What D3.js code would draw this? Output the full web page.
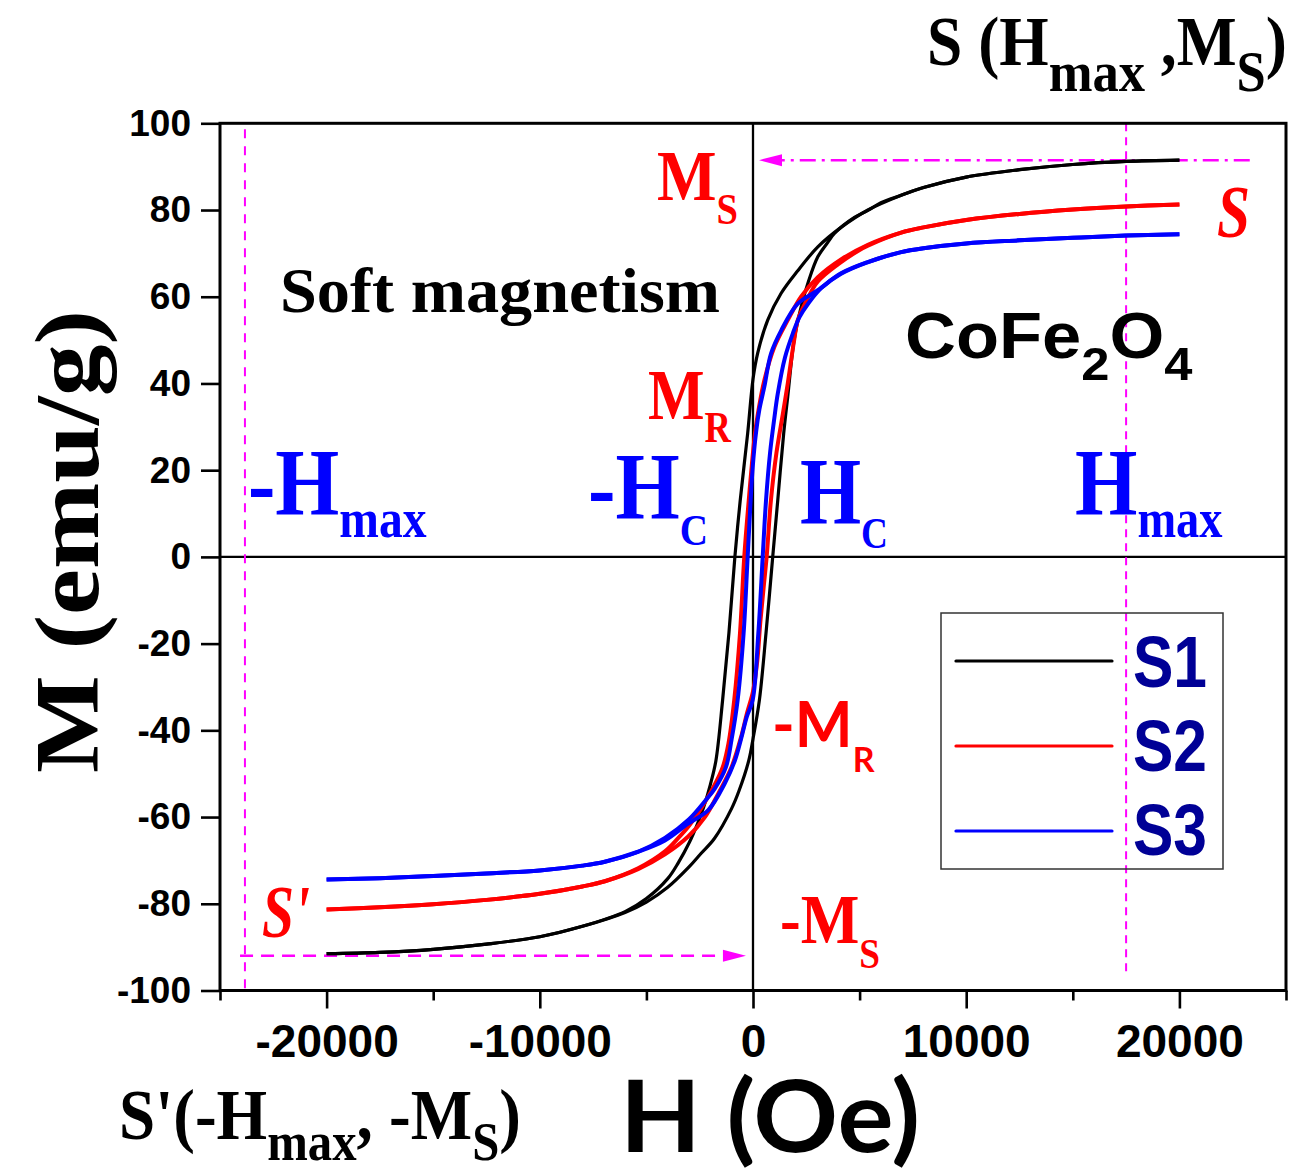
<!DOCTYPE html>
<html><head><meta charset="utf-8">
<script src="https://cdn.jsdelivr.net/npm/d3@7"></script>
<style>body{margin:0;background:#fff} text{white-space:pre}</style>
</head><body>
<svg id="chart" width="1303" height="1173"></svg>
<script>
// ---------- data ----------
const xTicksMajor = [-20000, -10000, 0, 10000, 20000];
const xTicksMinor = [-25000, -15000, -5000, 5000, 15000, 25000];
const yTicks = [-100, -80, -60, -40, -20, 0, 20, 40, 60, 80, 100];
const seriesNames = ["S1", "S2", "S3"];
const seriesColors = ["#000000", "#ff0000", "#0000ff"];

// S1: descending-field branch (H: +20000 -> -20000) and ascending-field branch
const s1Down = [[20000,91.5],[17500,91.2],[15000,90.5],[12500,89.3],[10000,87.6],[8000,85.2],[6950,83.4],[5390,80.0],[4130,76.0],[3040,71.5],[2100,66.0],[1320,60.8],[690,54.6],[220,47.0],[0,41.0],[-250,28.5],[-600,13.0],[-850,0],[-1130,-17.6],[-1425,-33.0],[-1740,-47.0],[-2000,-52.5],[-2300,-57.5],[-2600,-61.5],[-3000,-66.0],[-3500,-70.5],[-4000,-74.2],[-5000,-78.8],[-6000,-81.8],[-8000,-85.2],[-10000,-87.6],[-12500,-89.3],[-15000,-90.5],[-17500,-91.2],[-20000,-91.5]];
const s1Up = [[-20000,-91.5],[-17500,-91.2],[-15000,-90.5],[-12500,-89.3],[-10000,-87.6],[-8000,-85.2],[-6000,-82.0],[-5000,-79.6],[-4000,-76.2],[-3000,-71.5],[-2440,-68.4],[-1818,-65.0],[-1000,-58.0],[-660,-54.0],[-200,-47.0],[0,-42.0],[300,-33.0],[610,-17.6],[925,0],[1160,13.0],[1440,28.5],[1630,37.0],[1930,50.0],[2255,57.6],[2600,63.5],[3040,69.2],[3500,72.5],[3820,74.6],[4760,78.3],[5390,79.9],[6000,81.7],[6950,83.4],[8000,85.2],[10000,87.6],[12500,89.3],[15000,90.5],[17500,91.2],[20000,91.5]];

// S2
const s2Down = [[20000,81.3],[17500,80.8],[15000,80.1],[12500,79.1],[10000,77.7],[8000,76.0],[6950,74.8],[5390,72.0],[4130,68.6],[3040,64.5],[2255,60.0],[1630,54.6],[1000,48.4],[530,40.7],[280,34.5],[94,28.5],[-200,13.0],[-410,0],[-610,-17.6],[-880,-33.0],[-1150,-43.0],[-1420,-48.5],[-1900,-53.5],[-2500,-58.5],[-3000,-62.0],[-3500,-64.8],[-4130,-67.9],[-5390,-71.8],[-6950,-74.8],[-8000,-76.0],[-10000,-77.7],[-12500,-79.1],[-15000,-80.1],[-17500,-80.8],[-20000,-81.3]];
const s2Up = [[-20000,-81.3],[-17500,-80.8],[-15000,-80.1],[-12500,-79.1],[-10000,-77.7],[-8000,-76.0],[-6950,-74.8],[-5390,-72.0],[-4130,-68.6],[-3040,-64.5],[-2255,-60.0],[-1630,-54.6],[-1000,-48.4],[-530,-41.0],[-280,-36.0],[0,-31.0],[200,-24.0],[345,-15.0],[500,-7.0],[640,0],[840,13.0],[1100,24.0],[1400,33.0],[1630,40.0],[1930,50.0],[2100,54.6],[2500,59.0],[3040,63.5],[4000,67.5],[5000,70.8],[5390,71.8],[6950,74.8],[8000,76.0],[10000,77.7],[12500,79.1],[15000,80.1],[17500,80.8],[20000,81.3]];

// S3
const s3Down = [[20000,74.4],[17500,74.1],[15000,73.6],[12500,73.0],[10000,72.3],[8000,71.2],[6950,70.3],[5390,68.0],[4130,65.4],[3040,61.5],[2100,58.4],[1320,52.2],[845,46.9],[530,39.2],[300,34.0],[150,29.0],[-15,20.6],[-250,0],[-440,-17.6],[-720,-33.0],[-1000,-42.0],[-1270,-48.5],[-1800,-53.5],[-2200,-56.0],[-3000,-60.5],[-4130,-64.8],[-5390,-68.0],[-6950,-70.3],[-8000,-71.2],[-10000,-72.3],[-12500,-73.0],[-15000,-73.6],[-17500,-74.1],[-20000,-74.4]];
const s3Up = [[-20000,-74.4],[-17500,-74.1],[-15000,-73.6],[-12500,-73.0],[-10000,-72.3],[-8000,-71.2],[-6950,-70.3],[-5390,-68.0],[-4130,-65.4],[-3040,-61.5],[-2100,-58.4],[-1320,-52.2],[-845,-46.9],[-560,-42.0],[-300,-37.0],[-15,-33.0],[250,-17.6],[455,0],[610,13.0],[800,24.0],[1000,32.0],[1160,37.6],[1500,46.0],[1865,51.5],[2180,55.3],[2600,58.5],[3200,62.0],[4130,65.3],[5390,68.0],[6950,70.3],[8000,71.2],[10000,72.3],[12500,73.0],[15000,73.6],[17500,74.1],[20000,74.4]];

const loops = [[s1Down, s1Up], [s2Down, s2Up], [s3Down, s3Up]];

// annotation guide values (data units)
const hMaxGuide = [-23830, 17500];     // vertical dashed guides
const msArrow = { from: 23300, to: 280, m: 91.5 };
const msNegArrow = { from: -24060, to: -330, m: -92 };

// ---------- layout ----------
const svg = d3.select("#chart");
const L = 220, R = 1286, T = 123.3, B = 990.5;
const x = d3.scaleLinear().domain([-25000, 25000]).range([L, R]);
const y = d3.scaleLinear().domain([-100, 100]).range([B, T]);

const SERIF = "'Liberation Serif', 'Times New Roman', serif";
const SANS = "'Liberation Sans', Arial, sans-serif";
const CAL = "Lato, 'Open Sans', sans-serif";

// center lines
svg.append("line").attr("x1", x(0)).attr("x2", x(0)).attr("y1", T).attr("y2", B)
  .attr("stroke", "#000").attr("stroke-width", 2.3);
svg.append("line").attr("x1", L).attr("x2", R).attr("y1", y(0)).attr("y2", y(0))
  .attr("stroke", "#000").attr("stroke-width", 2.3);

// guides
const magenta = "#ff00ff";
svg.append("line").attr("x1", x(hMaxGuide[0])).attr("x2", x(hMaxGuide[0])).attr("y1", T + 6).attr("y2", B)
  .attr("stroke", magenta).attr("stroke-width", 2).attr("stroke-dasharray", "9,8");
svg.append("line").attr("x1", x(hMaxGuide[1])).attr("x2", x(hMaxGuide[1])).attr("y1", T).attr("y2", y(-96.5))
  .attr("stroke", magenta).attr("stroke-width", 2).attr("stroke-dasharray", "8,6");

// top dash-dot arrow
svg.append("line").attr("x1", x(msArrow.from)).attr("x2", x(msArrow.to) + 20).attr("y1", y(msArrow.m)).attr("y2", y(msArrow.m))
  .attr("stroke", magenta).attr("stroke-width", 2.5).attr("stroke-dasharray", "16,6,3,6");
svg.append("path").attr("d", d3.line()([[x(msArrow.to), y(msArrow.m)], [x(msArrow.to) + 23, y(msArrow.m) - 6], [x(msArrow.to) + 23, y(msArrow.m) + 6]]) + "Z")
  .attr("fill", magenta);
// bottom dashed arrow
svg.append("line").attr("x1", x(msNegArrow.from)).attr("x2", x(msNegArrow.to) - 20).attr("y1", y(msNegArrow.m)).attr("y2", y(msNegArrow.m))
  .attr("stroke", magenta).attr("stroke-width", 2.5).attr("stroke-dasharray", "13,8");
svg.append("path").attr("d", d3.line()([[x(msNegArrow.to), y(msNegArrow.m)], [x(msNegArrow.to) - 23, y(msNegArrow.m) - 6], [x(msNegArrow.to) - 23, y(msNegArrow.m) + 6]]) + "Z")
  .attr("fill", magenta);

// curves
const lineGen = d3.line().x(d => x(d[0])).y(d => y(d[1])).curve(d3.curveCatmullRom.alpha(0.5));
const widths = [3.2, 4, 4];
loops.forEach((pair, i) => {
  pair.forEach(branch => {
    svg.append("path").attr("d", lineGen(branch)).attr("fill", "none")
      .attr("stroke", seriesColors[i]).attr("stroke-width", widths[i]).attr("stroke-linejoin", "round");
  });
});

// axes
const gx = svg.append("g").attr("transform", `translate(0,${B})`)
  .call(d3.axisBottom(x).tickValues(xTicksMajor).tickSize(18).tickPadding(16).tickFormat(d => String(d)));
const gxm = svg.append("g").attr("transform", `translate(0,${B})`)
  .call(d3.axisBottom(x).tickValues(xTicksMinor).tickSize(10).tickFormat(""));
const gy = svg.append("g").attr("transform", `translate(${L},0)`)
  .call(d3.axisLeft(y).tickValues(yTicks).tickSize(19).tickPadding(10).tickFormat(d => String(d)));
[gx, gxm, gy].forEach(g => {
  g.select(".domain").remove();
  g.selectAll(".tick line").attr("stroke", "#000").attr("stroke-width", 2.6);
});
gx.selectAll("text").attr("font-family", SANS).attr("font-weight", "bold").attr("font-size", 46).attr("fill", "#000");
gy.selectAll("text").attr("font-family", SANS).attr("font-weight", "bold").attr("font-size", 37).attr("fill", "#000");

// frame
svg.append("rect").attr("x", L).attr("y", T).attr("width", R - L).attr("height", B - T)
  .attr("fill", "none").attr("stroke", "#000").attr("stroke-width", 3);

// legend
const lg = svg.append("g");
lg.append("rect").attr("x", 941).attr("y", 613).attr("width", 282).attr("height", 256)
  .attr("fill", "none").attr("stroke", "#333").attr("stroke-width", 1.5);
seriesNames.forEach((n, i) => {
  const ly = 661 + i * 85;
  lg.append("line").attr("x1", 956).attr("x2", 1112).attr("y1", ly).attr("y2", ly)
    .attr("stroke", seriesColors[i]).attr("stroke-width", 3.2).attr("stroke-linecap", "round");
});

// ---------- text helper ----------
function label(o) {
  const g = svg.append("g").attr("transform", `translate(${o.x},${o.y})` + (o.rotate ? ` rotate(${o.rotate})` : ""));
  const t = g.append("text").attr("font-family", o.family).attr("font-weight", o.weight || "bold")
    .attr("font-style", o.style || "normal").attr("font-size", o.size).attr("fill", o.fill || "#000");
  let shift = 0;
  o.parts.forEach(p => {
    const [txt, kind] = Array.isArray(p) ? p : [p, null];
    const ts = t.append("tspan").text(txt);
    const target = kind === "sub" ? o.subDy : 0;
    if (target !== shift) { ts.attr("dy", target - shift); shift = target; }
    if (kind === "sub") ts.attr("font-size", o.subSize);
  });
  if (o.width) {
    const bb = t.node().getBBox();
    const s = o.width / bb.width;
    t.attr("transform", `scale(${s},1) translate(${-bb.x},0)`);
  }
  return t;
}

seriesNames.forEach((n, i) => {
  label({ x: 1133, y: 687 + i * 84, parts: [n], family: SANS, size: 72, width: 74, fill: "#000096" });
});

label({ x: 927, y: 65, parts: ["S (H", ["max", "sub"], " ,M", ["S", "sub"], ")"], family: SERIF, size: 70, subSize: 58, subDy: 26, width: 360 });
label({ x: 280, y: 312, parts: ["Soft magnetism"], family: SERIF, size: 64, width: 440 });
label({ x: 905, y: 358, parts: ["CoFe", ["2", "sub"], "O", ["4", "sub"]], family: SANS, size: 64, subSize: 46, subDy: 22, width: 288 });
label({ x: 657, y: 200, parts: ["M", ["S", "sub"]], family: SERIF, size: 72, subSize: 44, subDy: 24, width: 81, fill: "#ff0000" });
label({ x: 1217, y: 237, parts: ["S"], family: SERIF, style: "italic", size: 74, width: 33, fill: "#ff0000" });
label({ x: 262, y: 937, parts: ["S'"], family: SERIF, style: "italic", size: 74, width: 48, fill: "#ff0000" });
label({ x: 648, y: 419, parts: ["M", ["R", "sub"]], family: SERIF, size: 72, subSize: 44, subDy: 23, width: 84, fill: "#ff0000" });
label({ x: 248, y: 515, parts: ["-H", ["max", "sub"]], family: SERIF, size: 95, subSize: 55, subDy: 22, width: 179, fill: "#0000ff" });
label({ x: 588, y: 519, parts: ["-H", ["C", "sub"]], family: SERIF, size: 95, subSize: 45, subDy: 26, width: 120, fill: "#0000ff" });
label({ x: 800, y: 524, parts: ["H", ["C", "sub"]], family: SERIF, size: 95, subSize: 45, subDy: 24, width: 88, fill: "#0000ff" });
label({ x: 1075, y: 515, parts: ["H", ["max", "sub"]], family: SERIF, size: 95, subSize: 55, subDy: 22, width: 148, fill: "#0000ff" });
label({ x: 772, y: 747, parts: ["-M", ["R", "sub"]], family: CAL, size: 63, subSize: 35, subDy: 25, width: 103, fill: "#ff0000" });
label({ x: 780, y: 943, parts: ["-M", ["S", "sub"]], family: SERIF, size: 70, subSize: 42, subDy: 25, width: 100, fill: "#ff0000" });
label({ x: 119, y: 1139, parts: ["S'(-H", ["max", "sub"], ", -M", ["S", "sub"], ")"], family: SERIF, size: 72, subSize: 54, subDy: 21, width: 402 });
label({ x: 620, y: 1152, parts: ["H (Oe)"], family: CAL, size: 100, width: 300 });
label({ x: 98, y: 773, rotate: -90, parts: ["M (emu/g)"], family: SERIF, size: 92, width: 463 });
</script>
</body></html>
